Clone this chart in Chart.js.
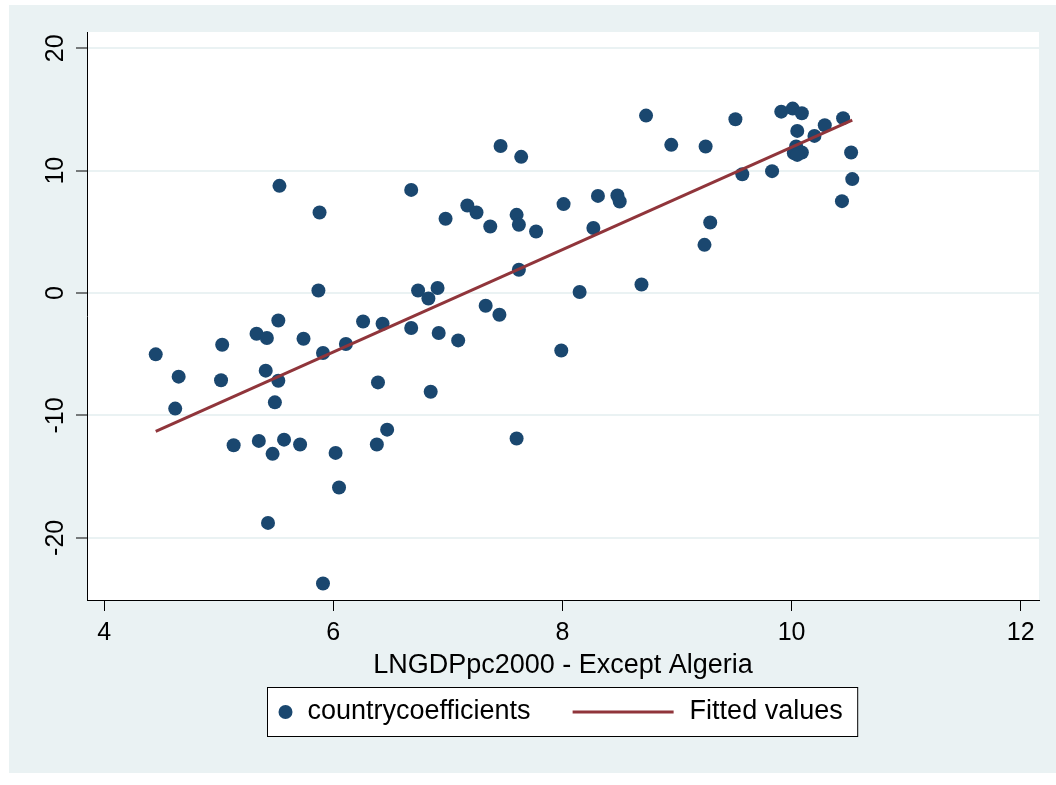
<!DOCTYPE html>
<html>
<head>
<meta charset="utf-8">
<script src="https://cdn.jsdelivr.net/npm/chart.js@4.4.1/dist/chart.umd.min.js"></script>
<style>
  html, body { margin: 0; padding: 0; background: #fff; }
  #wrap { position: relative; width: 1056px; height: 785px; }
</style>
</head>
<body>
<div id="wrap"><canvas id="chart" width="1056" height="785"></canvas></div>
<script>
// country coefficients vs log GDP per capita
const xValues = [
  5.53, 5.88, 5.87, 5.52, 5.33, 6.26, 6.68, 7.46, 7.64, 8.73,
  8.95, 6.98, 7.17, 7.25, 7.37, 7.60, 7.62, 7.77, 8.01, 8.31,
  8.48, 8.50, 8.27, 7.62, 6.74, 6.91, 6.83, 7.33, 7.45, 8.15,
  8.69, 6.43, 6.68, 9.25, 9.51, 9.91, 10.01, 10.09, 10.45, 10.05,
  10.29, 10.20, 10.04, 10.02, 10.09, 10.05, 10.52, 9.57, 9.83, 10.53,
  10.44, 9.29, 9.24, 4.45, 4.65, 4.62, 5.03, 5.02, 5.42, 5.41,
  5.52, 5.49, 5.74, 5.91, 6.11, 5.13, 5.35, 5.47, 5.57, 5.71,
  6.02, 6.05, 5.43, 5.91, 6.92, 7.09, 7.99, 6.39, 6.85, 6.47,
  6.38, 7.60
];
const yValues = [
  8.76, 6.58, 0.21, -2.24, -3.32, -2.32, 8.43, 12.02, 11.13, 14.50,
  12.11, 6.07, 7.15, 6.58, 5.44, 6.39, 5.58, 5.03, 7.27, 7.94,
  7.97, 7.48, 5.31, 1.90, 0.21, 0.41, -0.44, -1.04, -1.77, 0.08,
  0.70, -2.51, -2.86, 11.97, 14.20, 14.82, 15.07, 14.69, 14.29, 13.25,
  13.71, 12.84, 11.97, 11.43, 11.48, 11.29, 11.48, 9.71, 9.96, 9.31,
  7.51, 5.76, 3.94, -5.01, -6.83, -9.44, -4.22, -7.13, -3.67, -6.34,
  -7.16, -8.93, -3.73, -4.90, -4.16, -12.44, -12.08, -13.14, -11.98, -12.38,
  -13.06, -15.89, -18.78, -23.73, -3.27, -3.87, -4.69, -7.30, -8.06, -11.16,
  -12.38, -11.89
];

// fitted line end points
const fitX = [4.45, 10.53];
const fitY = [-11.30, 14.12];

const xTicks = [4, 6, 8, 10, 12];
const yTicks = [-20, -10, 0, 10, 20];

const BG = '#eaf2f3';
const NAVY = '#1a476f';
const MAROON = '#90353b';
const FAMILY = '"Liberation Sans", Arial, sans-serif';

// stata-like outer region + white plot region
const stataBackground = {
  id: 'stataBackground',
  beforeDraw(chart) {
    const { ctx, chartArea: a } = chart;
    ctx.save();
    ctx.fillStyle = BG;
    ctx.fillRect(9, 5, chart.width - 9, 768);
    ctx.fillStyle = '#fff';
    ctx.fillRect(a.left, a.top, a.right - a.left, a.bottom - a.top);
    ctx.restore();
  }
};

// boxed legend under the axis title
const boxLegend = {
  id: 'boxLegend',
  afterDraw(chart) {
    const ctx = chart.ctx;
    const [pts, fit] = chart.data.datasets;
    ctx.save();
    ctx.font = '27px ' + FAMILY;
    const w1 = ctx.measureText(pts.label).width;
    const w2 = ctx.measureText(fit.label).width;
    const total = 11 + 14 + 15 + w1 + 42 + 101 + 16 + w2 + 15;
    const cx = (chart.chartArea.left + chart.chartArea.right) / 2 - 1;
    const left = Math.round(cx - total / 2) + 0.5;
    const top = 687.5, h = 49, mid = top + h / 2;

    ctx.fillStyle = '#fff';
    ctx.fillRect(left, top, total, h);
    ctx.strokeStyle = '#000';
    ctx.lineWidth = 1;
    ctx.strokeRect(left, top, total, h);

    let x = left + 11;
    ctx.fillStyle = pts.backgroundColor;
    ctx.beginPath();
    ctx.arc(x + 7, mid, pts.pointRadius, 0, Math.PI * 2);
    ctx.fill();
    x += 14 + 15;

    ctx.fillStyle = '#000';
    ctx.textBaseline = 'middle';
    ctx.fillText(pts.label, x, mid);
    x += w1 + 42;

    ctx.strokeStyle = fit.borderColor;
    ctx.lineWidth = fit.borderWidth;
    ctx.beginPath();
    ctx.moveTo(x, mid);
    ctx.lineTo(x + 101, mid);
    ctx.stroke();
    x += 101 + 16;

    ctx.fillStyle = '#000';
    ctx.fillText(fit.label, x, mid);
    ctx.restore();
  }
};

const ctx = document.getElementById('chart').getContext('2d');

new Chart(ctx, {
  type: 'scatter',
  data: {
    datasets: [
      {
        label: 'countrycoefficients',
        data: xValues.map((x, i) => ({ x: x, y: yValues[i] })),
        backgroundColor: NAVY,
        borderColor: NAVY,
        pointRadius: 7,
        pointBorderWidth: 0,
        order: 2
      },
      {
        label: 'Fitted values',
        data: fitX.map((x, i) => ({ x: x, y: fitY[i] })),
        showLine: true,
        borderColor: MAROON,
        backgroundColor: MAROON,
        borderWidth: 3,
        pointRadius: 0,
        fill: false,
        order: 1
      }
    ]
  },
  options: {
    responsive: false,
    animation: false,
    layout: { padding: { top: 32, right: 17, left: 0, bottom: 0 } },
    plugins: {
      legend: { display: false },
      tooltip: { enabled: false }
    },
    scales: {
      x: {
        type: 'linear',
        min: 3.85,
        max: 12.16,
        afterBuildTicks: s => { s.ticks = xTicks.map(v => ({ value: v })); },
        afterFit: s => { s.height = 185; },
        grid: { display: true, drawOnChartArea: false, drawTicks: true, tickLength: 11, tickColor: '#000', tickWidth: 1 },
        border: { display: true, color: '#000', width: 1 },
        ticks: { color: '#000', font: { size: 25, family: FAMILY }, padding: 7, minRotation: 0, maxRotation: 0, autoSkip: false },
        title: {
          display: true,
          text: 'LNGDPpc2000 - Except Algeria',
          color: '#000',
          font: { size: 27, family: FAMILY },
          padding: { top: 0, bottom: 103 }
        }
      },
      y: {
        type: 'linear',
        min: -25.08,
        max: 21.33,
        afterBuildTicks: s => { s.ticks = yTicks.map(v => ({ value: v })); },
        afterFit: s => { s.width = 87; },
        grid: { color: BG, lineWidth: 2, drawTicks: true, tickLength: 11, tickColor: '#000', tickWidth: 1 },
        border: { display: true, color: '#000', width: 1 },
        ticks: { color: '#000', font: { size: 25, family: FAMILY }, padding: 2, minRotation: 90, maxRotation: 90, crossAlign: 'center' }
      }
    }
  },
  plugins: [stataBackground, boxLegend]
});
</script>
</body>
</html>
